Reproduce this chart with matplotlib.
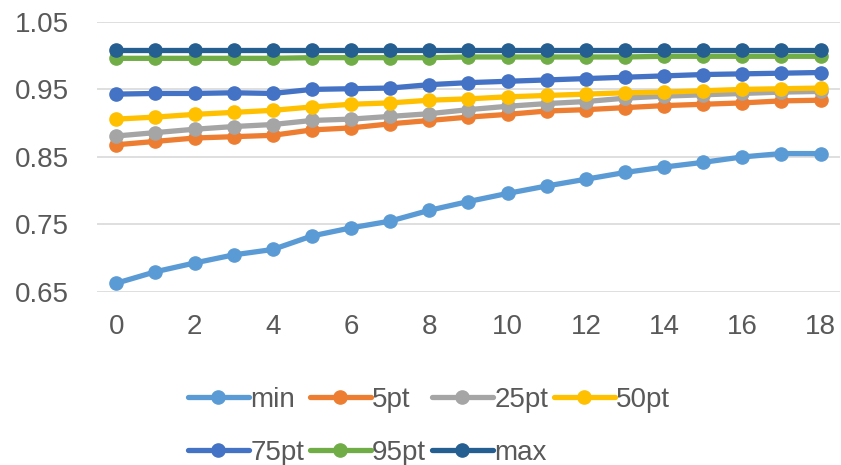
import numpy as np
import matplotlib
matplotlib.use('Agg')
import matplotlib.pyplot as plt

# data
x = list(range(19))
series_names = ['min', '5pt', '25pt', '50pt', '75pt', '95pt', 'max']
min_vals = [0.663, 0.680, 0.693, 0.705, 0.713, 0.733, 0.745, 0.755, 0.771, 0.784,
            0.796, 0.807, 0.817, 0.827, 0.835, 0.842, 0.850, 0.855, 0.855]
p5_vals = [0.868, 0.873, 0.878, 0.880, 0.882, 0.890, 0.893, 0.899, 0.904, 0.909,
           0.913, 0.918, 0.920, 0.923, 0.926, 0.928, 0.930, 0.933, 0.934]
p25_vals = [0.881, 0.886, 0.891, 0.895, 0.898, 0.904, 0.906, 0.910, 0.914, 0.920,
            0.925, 0.929, 0.932, 0.937, 0.940, 0.942, 0.944, 0.946, 0.947]
p50_vals = [0.906, 0.909, 0.913, 0.916, 0.919, 0.924, 0.928, 0.930, 0.934, 0.936,
            0.939, 0.941, 0.943, 0.945, 0.946, 0.948, 0.950, 0.951, 0.952]
p75_vals = [0.943, 0.944, 0.944, 0.945, 0.944, 0.950, 0.951, 0.952, 0.957, 0.960,
            0.962, 0.964, 0.966, 0.968, 0.970, 0.972, 0.973, 0.974, 0.975]
p95_vals = [0.996, 0.996, 0.996, 0.996, 0.996, 0.997, 0.997, 0.997, 0.997, 0.998,
            0.998, 0.998, 0.998, 0.998, 0.999, 0.999, 0.999, 0.999, 0.999]
max_vals = [1.008] * 19
colors = ['#5B9BD5', '#ED7D31', '#A5A5A5', '#FFC000', '#4472C4', '#70AD47', '#255E91']
yticks = [0.65, 0.75, 0.85, 0.95, 1.05]
xticks = list(range(0, 19, 2))

all_vals = [min_vals, p5_vals, p25_vals, p50_vals, p75_vals, p95_vals, max_vals]

plt.rcParams['font.family'] = ['Liberation Sans', 'DejaVu Sans']
txt = '#595959'

fig = plt.figure(figsize=(8.41, 4.65), dpi=100)
ax = fig.add_axes([0.115, 0.372, 0.884, 0.581])

handles = []
for name, vals, c in zip(series_names, all_vals, colors):
    h, = ax.plot(x, vals, color=c, lw=3.8, marker='o', markersize=9.5,
                 label=name, solid_capstyle='round')
    handles.append(h)

ax.set_xlim(-0.5, 18.5)
ax.set_ylim(0.65, 1.05)
ax.set_yticks(yticks)
ax.set_yticklabels(['%.2f' % v for v in yticks])
ax.set_xticks(xticks)
ax.tick_params(axis='both', length=0, labelsize=20, colors=txt)
ax.tick_params(axis='y', pad=20)
ax.tick_params(axis='x', pad=16)
ax.grid(axis='y', color='#D9D9D9', lw=1.2)
ax.set_axisbelow(True)
for s in ax.spines.values():
    s.set_visible(False)

# reorder so the legend fills row by row
order = [0, 4, 1, 5, 2, 6, 3]
leg = fig.legend([handles[i] for i in order], [series_names[i] for i in order],
                 ncol=4, loc='center', bbox_to_anchor=(0.51, 0.083), frameon=False,
                 fontsize=20, handlelength=2.2, handletextpad=0.05, columnspacing=0.2,
                 labelspacing=0.95)
for t in leg.get_texts():
    t.set_color(txt)

fig.savefig('out.png', dpi=100)
